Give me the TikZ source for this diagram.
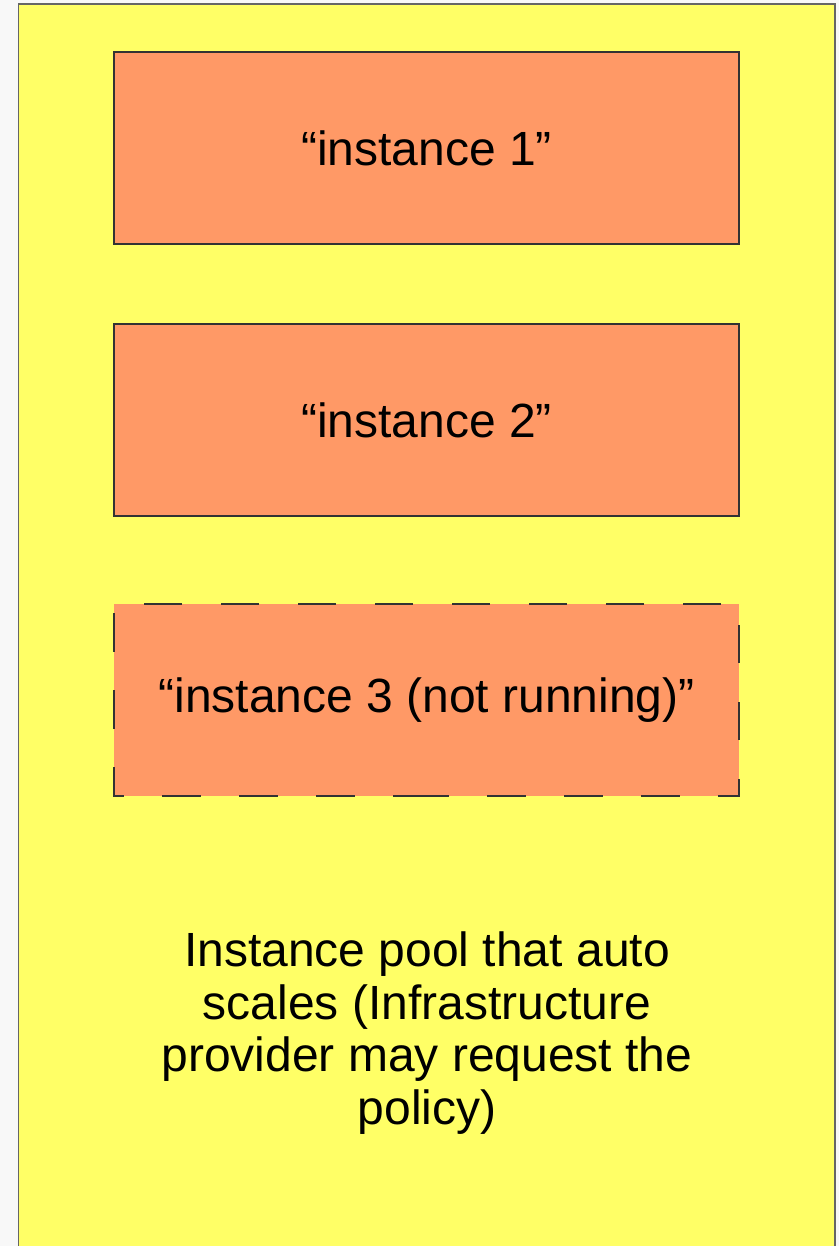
\documentclass[tikz,border=0pt]{standalone}
\usepackage{fontspec}
\setmainfont{Liberation Sans}
\usetikzlibrary{positioning}
\definecolor{poolyellow}{HTML}{FFFF66}
\definecolor{instorange}{HTML}{FF9966}
\definecolor{edgegray}{HTML}{666666}
\definecolor{pagegray}{HTML}{F8F8F8}

\begin{document}
\begin{tikzpicture}[x=0.5pt, y=-0.5pt,
  instance/.style={rectangle, fill=instorange, draw=black!80, line width=0.7pt,
    minimum width=312.5pt, minimum height=96pt, inner sep=0pt, outer sep=0pt,
    font=\fontsize{24}{26.25}\selectfont},
  stopped/.style={instance, draw=none},
  stopline/.style={draw=black!80, line width=0.7pt,
    dash pattern=on 19.25pt off 19.25pt, dash phase=8.25pt}]
\useasboundingbox (0,0) rectangle (839,1246);
\fill[pagegray] (0,0) rectangle (839,1246);
\draw[fill=poolyellow, draw=edgegray, line width=0.9pt]
      (18.5,4) rectangle (835,1270);

\node[instance] (inst1) at (426.5,148) {“instance 1”};
\node[instance, below=40pt of inst1] (inst2) {“instance 2”};
\node[stopped, below=44pt of inst2] (inst3) {“instance 3 (not running)”};
% instance 3 is not running: dashed outline
\draw[stopline] (inst3.south) -- (inst3.south east) -- (inst3.north east)
      -- (inst3.north west) -- (inst3.south west) -- cycle;

\node[align=center, font=\fontsize{24}{26.25}\selectfont]
      (pool) at (427,1033) {Instance pool that auto\\scales (Infrastructure\\provider may request the\\policy)};

\end{tikzpicture}
\end{document}
